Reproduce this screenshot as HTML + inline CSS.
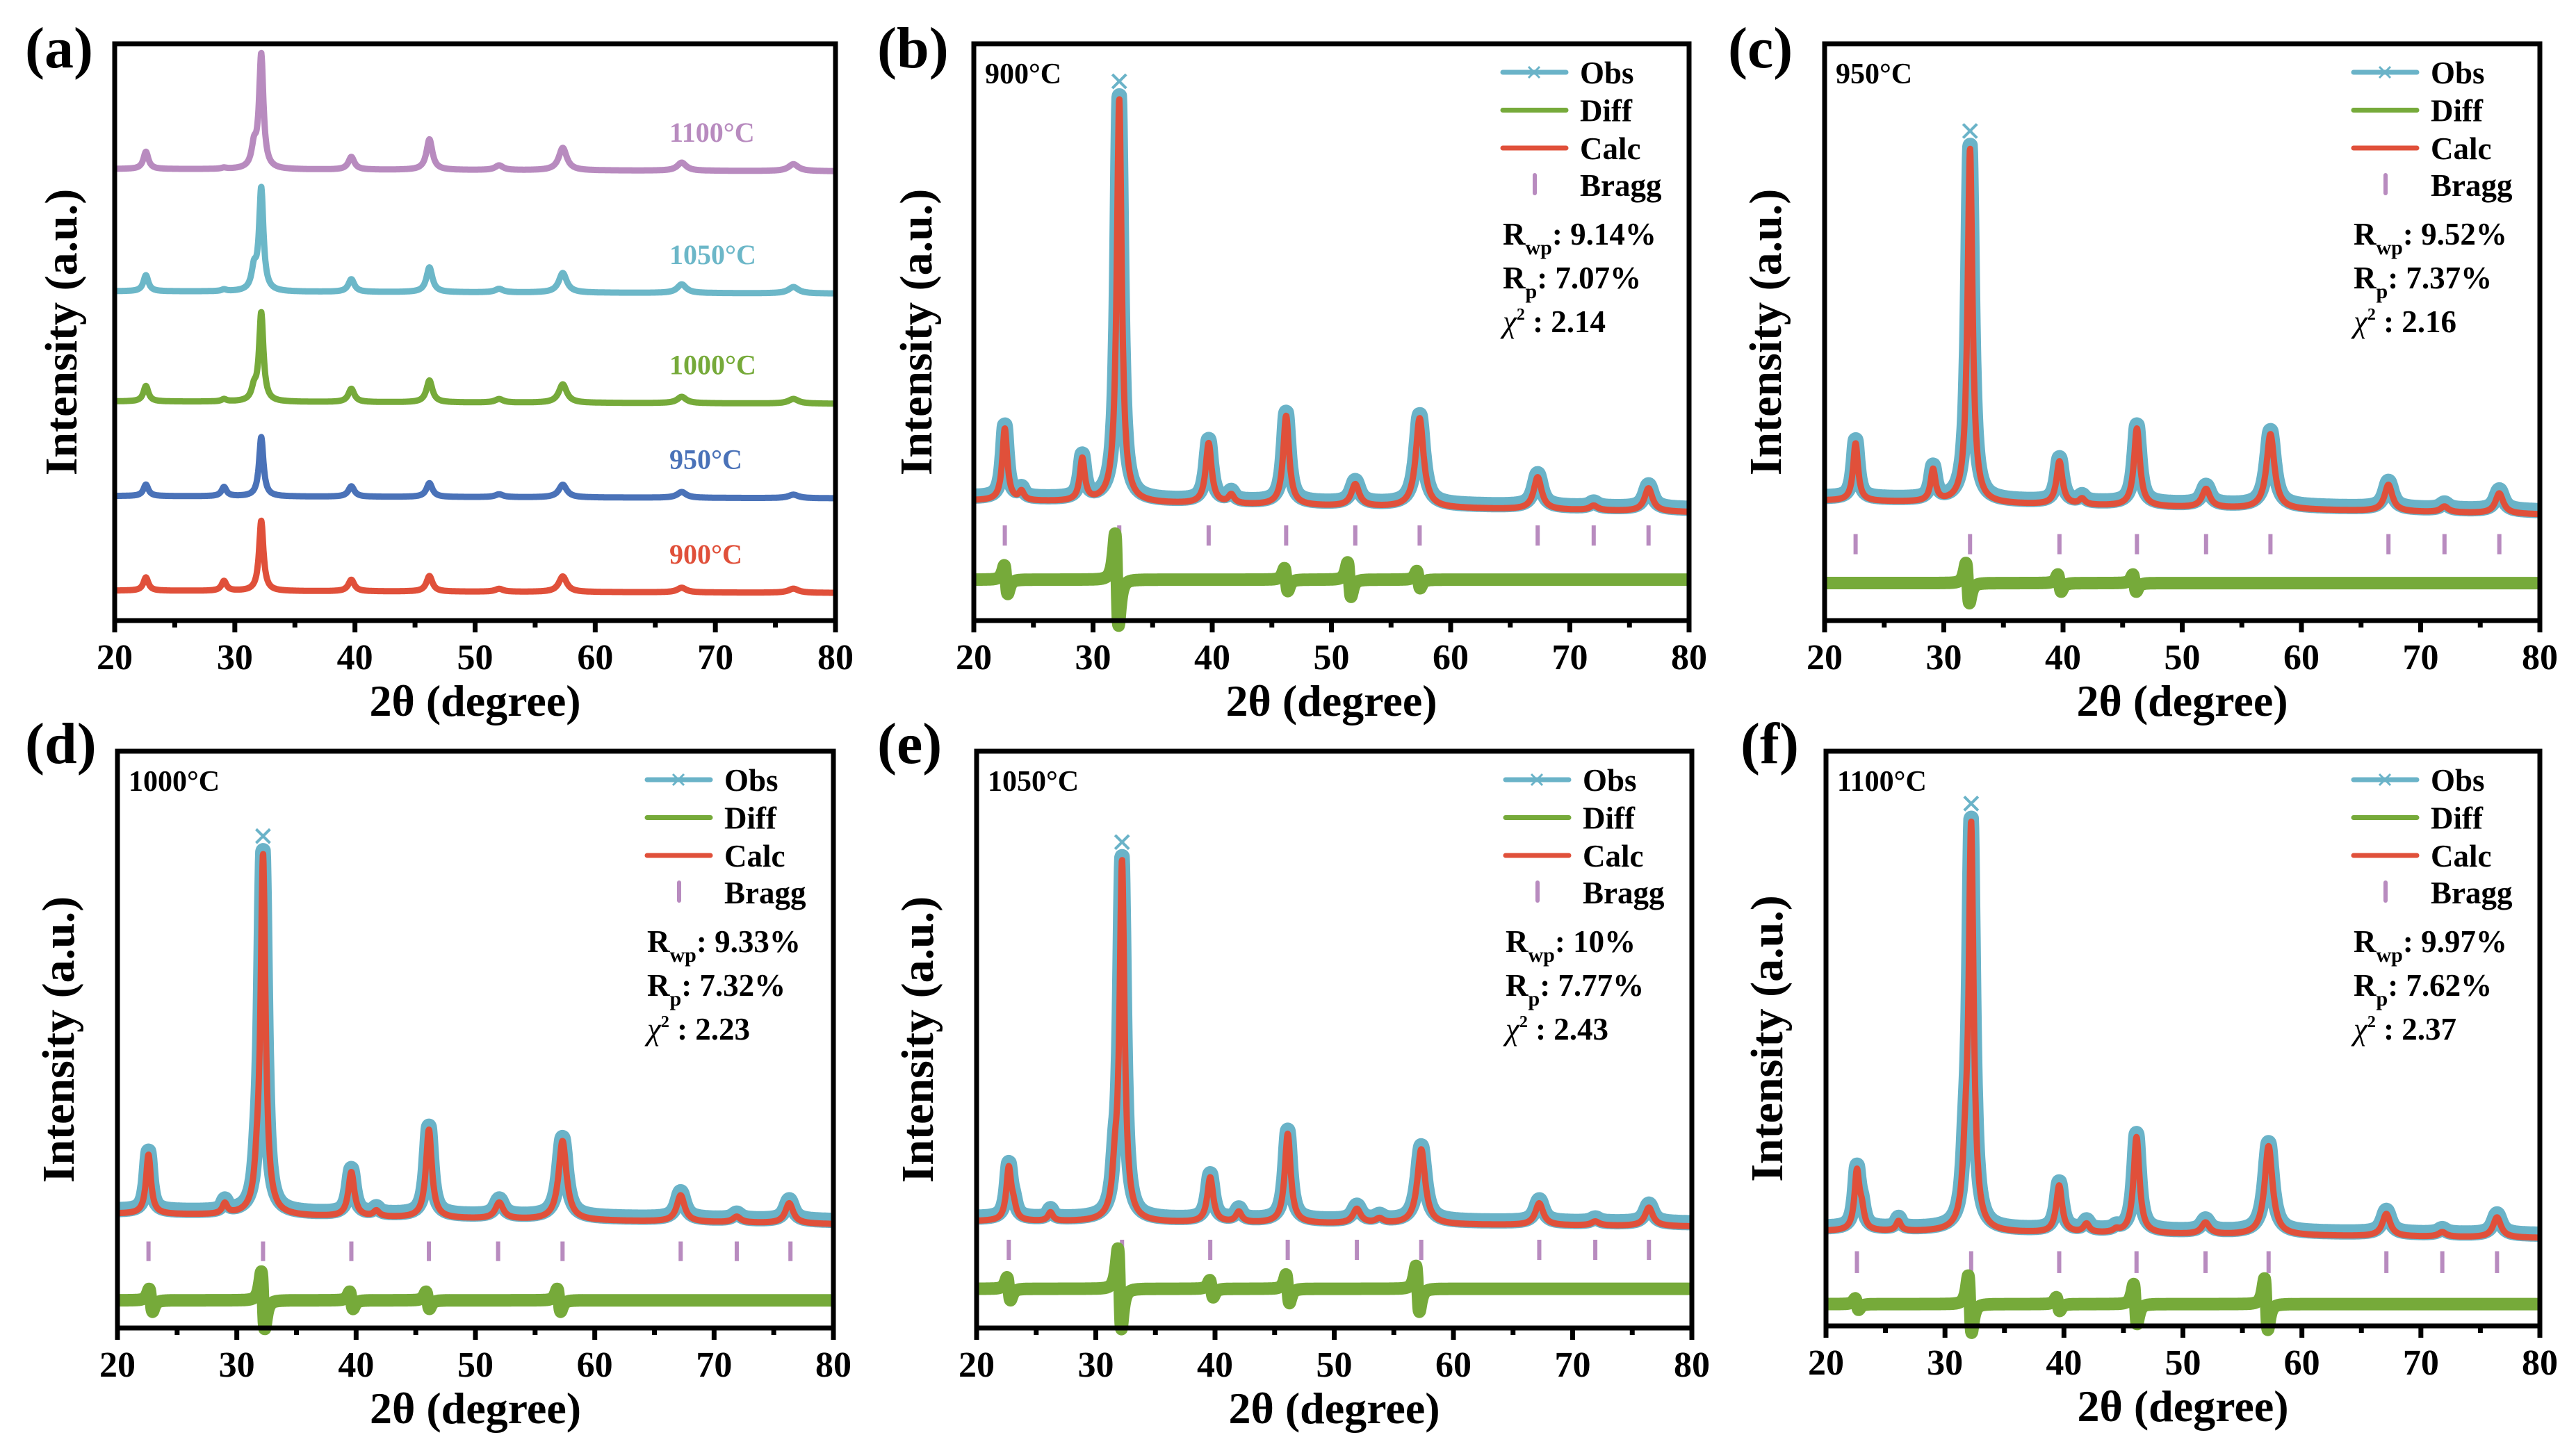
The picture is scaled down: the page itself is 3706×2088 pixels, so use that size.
<!DOCTYPE html>
<html><head><meta charset="utf-8">
<style>
html,body{margin:0;padding:0;background:#fff;}
svg{display:block;}
text{font-family:"Liberation Serif",serif;font-weight:bold;fill:#000;}
</style></head>
<body>
<svg id="fig" xmlns="http://www.w3.org/2000/svg" width="3706" height="2088" viewBox="0 0 3706 2088"></svg>
<script>
// ---------- Panel (a): stacked XRD patterns ----------
const aSeries = ['900°C','950°C','1000°C','1050°C','1100°C'];
const aColors = ['#e0503a','#4a72b8','#76aa3a','#6cb7c8','#b88bbf'];
const aBase = [5.2, 21.6, 38.0, 57.1, 78.3];
const aPeakPos = [22.6, 29.1, 31.6, 32.2, 39.7, 46.2, 52.0, 57.3, 67.2, 76.5];
const aPeakW = [0.25, 0.25, 0.25, 0.22, 0.3, 0.3, 0.4, 0.4, 0.45, 0.5];
const aH900 = [2.3, 1.7, 0, 12.2, 2.0, 2.7, 0.5, 2.7, 0.8, 0.7];
const aH950 = [2.0, 1.6, 0, 10.3, 1.8, 2.4, 0.5, 2.2, 1.0, 0.6];
const aH1000 = [2.7, 0.4, 2.0, 15.3, 2.3, 3.8, 0.6, 3.2, 1.1, 0.8];
const aH1050 = [2.8, 0.3, 3.5, 17.7, 2.2, 4.3, 0.6, 3.4, 1.5, 1.1];
const aH1100 = [3.0, 0.2, 3.5, 19.7, 2.2, 5.3, 0.8, 3.9, 1.4, 1.2];
const aHeights = [aH900, aH950, aH1000, aH1050, aH1100];

// ---------- Refinement panels (b)-(f) ----------
const tempLabels = ['900°C','950°C','1000°C','1050°C','1100°C'];
const rwp = ['9.14%','9.52%','9.33%','10%','9.97%'];
const rp = ['7.07%','7.37%','7.32%','7.77%','7.62%'];
const chi2 = ['2.14','2.16','2.23','2.43','2.37'];
const basesB = [20.8, 18.8];
const posB = [22.6,24.0,29.1,32.2,39.7,41.6,46.2,52.0,57.4,67.3,72.0,76.6];
const hB = [12.5,1.5,7.3,70,10.5,1.5,15.5,3.8,15.5,5.6,0.8,4];
const basesC = [20.8, 18.4];
const posC = [22.6,29.1,32.2,39.7,41.6,46.2,52.0,57.4,67.3,72.0,76.6];
const hC = [10,5.5,61.5,7.5,1,13.5,3.2,13,4.6,1,3.5];
const basesD = [19.8, 18.0];
const posD = [22.6,29.0,31.7,32.2,39.6,41.7,46.1,52.0,57.3,67.2,71.9,76.3];
const hD = [10.3,1.8,4,62,7.7,1,15.3,2.8,13.7,4.6,1,3.5];
const basesE = [18.5, 17.6];
const posE = [22.7,23.1,26.2,31.6,32.2,39.6,42.0,46.1,51.9,53.8,57.3,67.2,71.9,76.4];
const hE = [9,2,1.5,6,62,7.8,1.8,15.5,2.5,0.8,13,3.8,0.7,3.2];
const basesF = [16.5, 15.3];
const posF = [22.6,23.0,26.1,31.7,32.2,39.6,41.9,44.4,46.1,51.9,57.2,67.1,71.8,76.4];
const hF = [10,3,1.7,8,70,8.2,1.5,0.5,16.8,2,15.5,3.9,0.8,3.5];
const braggB = [22.6,32.2,39.7,46.2,52.0,57.4,67.3,72.0,76.6];
const braggC = [22.6,32.2,39.7,46.2,52.0,57.4,67.3,72.0,76.6];
const braggD = [22.6,32.2,39.6,46.1,51.9,57.3,67.2,71.9,76.4];
const braggE = [22.7,32.2,39.6,46.1,51.9,57.3,67.2,71.9,76.4];
const braggF = [22.6,32.2,39.6,46.1,51.9,57.2,67.1,71.8,76.4];
const braggRange = [[13,16.5],[11.5,15],[11.6,15],[11.8,15.3],[9.2,13]];
const diffBase = [7.1, 6.5, 4.8, 6.8, 3.8];
const diffPosB = [22.7,32.0,46.2,51.5,57.3]; const diffAmpB = [2.5,8,2,3,1.5];
const diffPosC = [32.0,39.7,46.0]; const diffAmpC = [3.5,1.5,1.5];
const diffPosD = [22.8,32.2,39.6,46.0,57.0]; const diffAmpD = [2,5,1.5,1.5,2];
const diffPosE = [22.7,32.0,39.7,46.1,57.0]; const diffAmpE = [2,7,1.5,2.5,4];
const diffPosF = [22.6,32.1,39.5,46.0,57.0]; const diffAmpF = [1,5,1.2,3.5,4.5];
const xTicks = [20,30,40,50,60,70,80];

const NS = 'http://www.w3.org/2000/svg';
const svg = document.getElementById('fig');
function el(tag, attrs, parent){
  const e = document.createElementNS(NS, tag);
  for (const k in attrs) e.setAttribute(k, attrs[k]);
  (parent||svg).appendChild(e);
  return e;
}
function lor(x,p,w){ const u=(x-p)/w; return 1/(1+u*u); }
function profile(x, pos, h, w, b0, b1){
  let y = b0 + (b1-b0)*(x-20)/60;
  for (let i=0;i<pos.length;i++){
    const ww = w ? w[i] : (pos[i]<35?0.25:(pos[i]<50?0.3:0.4));
    y += h[i]*lor(x,pos[i],ww);
  }
  return y;
}
function makeAxes(b){
  b.sx = v => b.x0 + (v-20)/60*(b.x1-b.x0);
  b.sy = v => b.y1 - v/100*(b.y1-b.y0);
}
function pathFrom(b, fn){
  let d='';
  for (let x=20; x<=80.0001; x+=0.03){
    d += (d?'L':'M') + b.sx(x).toFixed(1) + ',' + b.sy(fn(x)).toFixed(1);
  }
  return d;
}
function drawFrame(b, g, letter, lx, lby){
  const fr = el('rect',{x:b.x0,y:b.y0,width:b.x1-b.x0,height:b.y1-b.y0,fill:'none',stroke:'#000','stroke-width':7},g);
  
  
  for (let v=20; v<=80; v+=5){
    const major = v%10===0;
    const t = el('line',{x1:b.sx(v),x2:b.sx(v),y1:b.y1,y2:b.y1+(major?17:10),stroke:'#000','stroke-width':7},g);
    
    
  }
  xTicks.forEach(v=>{
    const t = el('text',{x:b.sx(v),y:b.y1+70,'text-anchor':'middle','font-size':52},g);
    t.textContent = v;
    
    
  });
  const xt = el('text',{x:(b.x0+b.x1)/2,y:b.y1+137,'text-anchor':'middle','font-size':64},g);
  xt.textContent='2θ (degree)';
  
  
  const cx = b.x0 - b.yoff, cy=(b.y0+b.y1)/2;
  const yt = el('text',{x:cx,y:cy,'text-anchor':'middle','font-size':66,transform:`rotate(-90 ${cx} ${cy})`},g);
  yt.textContent='Intensity (a.u.)';
  
  
  const pl = el('text',{x:lx,y:lby,'font-size':84},g);
  pl.textContent='('+letter+')';
  
  
}

// ---- Panel a ----
const A = {x0:165,x1:1202,y0:63,y1:893,yoff:55}; makeAxes(A);
const gA = el('g',{});


aSeries.forEach((name,i)=>{
  const p = el('path',{d:pathFrom(A, x=>profile(x,aPeakPos,aHeights[i],aPeakW,aBase[i],aBase[i]-0.4)),fill:'none',stroke:aColors[i],'stroke-width':9,'stroke-linejoin':'round'},gA);
  
  
  const t = el('text',{x:963,y:A.sy(aBase[i])-39,'font-size':40,fill:aColors[i]},gA);
  t.style.fill = aColors[i];
  t.textContent = name;
  
  
});
drawFrame(A,gA,'a',36,97);

// ---- Refinement panels ----
const panels = [
  {b:{x0:1401,x1:2430,y0:63,y1:893,yoff:61},L:'b',lx:1262,lby:97,pos:posB,h:hB,base:basesB,bragg:braggB,dp:diffPosB,da:diffAmpB},
  {b:{x0:2625,x1:3654,y0:63,y1:893,yoff:63},L:'c',lx:2486,lby:97,pos:posC,h:hC,base:basesC,bragg:braggC,dp:diffPosC,da:diffAmpC},
  {b:{x0:169,x1:1199,y0:1081,y1:1911,yoff:63},L:'d',lx:36,lby:1098,pos:posD,h:hD,base:basesD,bragg:braggD,dp:diffPosD,da:diffAmpD},
  {b:{x0:1405,x1:2434,y0:1081,y1:1911,yoff:63},L:'e',lx:1262,lby:1098,pos:posE,h:hE,base:basesE,bragg:braggE,dp:diffPosE,da:diffAmpE},
  {b:{x0:2627,x1:3654,y0:1081,y1:1908,yoff:63},L:'f',lx:2504,lby:1098,pos:posF,h:hF,base:basesF,bragg:braggF,dp:diffPosF,da:diffAmpF}
];
panels.forEach((P,k)=>{
  const b=P.b; makeAxes(b);
  const g = el('g',{});
  
  
  const calc = x=>profile(x,P.pos,P.h,null,P.base[0],P.base[1]);
  const obs = el('path',{d:pathFrom(b, x=>calc(x)+0.6),fill:'none',stroke:'#6ab3c8','stroke-width':22,'stroke-linejoin':'round'},g);
  
  
  let imax=0; P.h.forEach((v,i)=>{ if(v>P.h[imax]) imax=i; });
  const mx=b.sx(P.pos[imax]), my=b.sy(calc(P.pos[imax])+3);
  const mk = el('path',{d:`M${mx-10},${my-10}L${mx+10},${my+10}M${mx-10},${my+10}L${mx+10},${my-10}`,stroke:'#6ab3c8','stroke-width':4},g);
  
  
  const cl = el('path',{d:pathFrom(b, calc),fill:'none',stroke:'#e0503a','stroke-width':9,'stroke-linejoin':'round'},g);
  
  
  P.bragg.forEach(v=>{
    const t = el('line',{x1:b.sx(v),x2:b.sx(v),y1:b.sy(braggRange[k][0]),y2:b.sy(braggRange[k][1]),stroke:'#b88bbf','stroke-width':6},g);
    
    
  });
  const diff = x=>{
    let y=diffBase[k];
    for(let i=0;i<P.dp.length;i++){ const u=(x-P.dp[i])/0.25; y += P.da[i]*(-2*u/((1+u*u)*(1+u*u)))/0.65; }
    return y;
  };
  const df = el('path',{d:pathFrom(b, diff),fill:'none',stroke:'#76aa3a','stroke-width':18,'stroke-linejoin':'round'},g);
  
  
  drawFrame(b,g,P.L,P.lx,P.lby);
  const dy = b.y0;
  const tl = el('text',{x:b.x0+16,y:dy+57,'font-size':42},g);
  tl.textContent = tempLabels[k];
  
  
  const R=b.x1;
  const lg = el('g',{},g);
  
  
  const rows=[['Obs','#6ab3c8'],['Diff','#76aa3a'],['Calc','#e0503a']];
  rows.forEach((r,i)=>{
    const yy = dy+41+i*54.5;
    const ln = el('line',{x1:R-268,x2:R-177,y1:yy,y2:yy,stroke:r[1],'stroke-width':7,'stroke-linecap':'round'},lg);
    
    
    if(i===0){
      const xm = el('path',{d:`M${R-231},${yy-8}L${R-215},${yy+8}M${R-231},${yy+8}L${R-215},${yy-8}`,stroke:r[1],'stroke-width':3},lg);
      
      
    }
    const tx = el('text',{x:R-157,y:yy+16,'font-size':45},lg);
    tx.textContent=r[0];
    
    
  });
  const bt = el('line',{x1:R-222,x2:R-222,y1:dy+189,y2:dy+215,stroke:'#b88bbf','stroke-width':6,'stroke-linecap':'round'},lg);
  
  
  const btx = el('text',{x:R-157,y:dy+219,'font-size':45},lg);
  btx.textContent='Bragg';
  
  
  const s1 = el('text',{x:R-268,y:dy+289,'font-size':45},g);
  s1.innerHTML = 'R<tspan font-size="30" dy="14">wp</tspan><tspan dy="-14">: '+rwp[k]+'</tspan>';
  
  
  const s2 = el('text',{x:R-268,y:dy+352,'font-size':45},g);
  s2.innerHTML = 'R<tspan font-size="30" dy="14">p</tspan><tspan dy="-14">: '+rp[k]+'</tspan>';
  
  
  const s3 = el('text',{x:R-268,y:dy+415,'font-size':45},g);
  s3.innerHTML = '<tspan font-style="italic" font-weight="normal">χ</tspan><tspan font-size="24" dy="-18">2</tspan><tspan dy="18"> : '+chi2[k]+'</tspan>';
  
  
});
</script>
</body></html>
